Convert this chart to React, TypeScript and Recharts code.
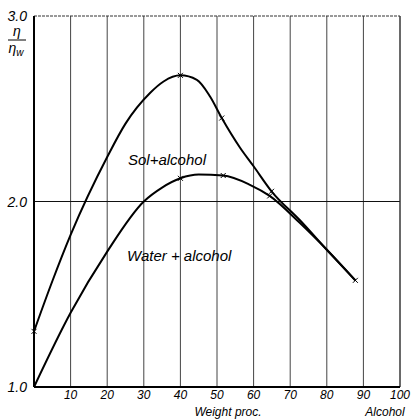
import { ComposedChart, Line, Scatter, XAxis, YAxis, CartesianGrid, ReferenceLine } from 'recharts';

// curves (weight % alcohol vs relative viscosity)
const solAlcohol = [
  { x: 0, y: 1.3 }, { x: 5, y: 1.57 }, { x: 10, y: 1.82 }, { x: 20, y: 2.24 },
  { x: 25, y: 2.42 }, { x: 31.7, y: 2.585 }, { x: 35.4, y: 2.647 }, { x: 40, y: 2.68 },
  { x: 44.5, y: 2.656 }, { x: 48.1, y: 2.566 }, { x: 51.3, y: 2.45 }, { x: 56.3, y: 2.29 },
  { x: 60, y: 2.19 }, { x: 64.9, y: 2.055 }, { x: 72.6, y: 1.9 }, { x: 80, y: 1.74 },
  { x: 87.8, y: 1.575 },
];
const waterAlcohol = [
  { x: 0, y: 1.0 }, { x: 10, y: 1.4 }, { x: 20, y: 1.73 }, { x: 30, y: 2.0 },
  { x: 35, y: 2.075 }, { x: 40, y: 2.125 }, { x: 45, y: 2.145 }, { x: 51.7, y: 2.14 },
  { x: 59, y: 2.09 }, { x: 64.4, y: 2.03 }, { x: 72.6, y: 1.885 }, { x: 80, y: 1.74 },
  { x: 87.8, y: 1.575 },
];
// measured points (x marks)
const solMarks = [
  { x: 0, y: 1.3 }, { x: 40, y: 2.68 }, { x: 51.3, y: 2.45 }, { x: 64.9, y: 2.055 }, { x: 87.8, y: 1.575 },
];
const waterMarks = [
  { x: 40, y: 2.125 }, { x: 51.7, y: 2.14 }, { x: 64.4, y: 2.03 },
];
const xTicks = [10, 20, 30, 40, 50, 60, 70, 80, 90, 100];
const yTicks = [1, 2, 3];

const FONT = '"Liberation Sans", Arial, sans-serif';

const Cross = (props: any) => {
  const { cx, cy } = props;
  const s = 2.5;
  return (
    <g stroke="#000" strokeWidth={1}>
      <line x1={cx - s} y1={cy - s} x2={cx + s} y2={cy + s} />
      <line x1={cx - s} y1={cy + s} x2={cx + s} y2={cy - s} />
    </g>
  );
};

// axis line sits at y=387; labels placed from it so they stay apart
const XTick = (props: any) => {
  const { x, payload } = props;
  return (
    <text x={x} y={399} textAnchor="middle" fontFamily={FONT} fontStyle="italic" fontSize={12} fill="#000">
      {payload.value}
    </text>
  );
};

const YTick = (props: any) => {
  const { y, payload } = props;
  return (
    <text x={27} y={y + 5} textAnchor="end" fontFamily={FONT} fontStyle="italic" fontSize={14} fill="#000">
      {payload.value.toFixed(1)}
    </text>
  );
};

const XLabel = () => (
  <g fontFamily={FONT} fontStyle="italic" fontSize={12} fill="#000">
    <text x={228} y={416} textAnchor="middle">Weight proc.</text>
    <text x={385} y={416} textAnchor="middle">Alcohol</text>
  </g>
);

const YLabel = () => (
  <g fontFamily={FONT} fontStyle="italic" fontSize={14} fill="#000">
    <text x={17} y={36} textAnchor="middle">η</text>
    <line x1={8} y1={40} x2={26} y2={40} stroke="#000" strokeWidth={1} />
    <text x={16} y={53} textAnchor="middle">
      η<tspan fontSize={10} dy={3}>w</tspan>
    </text>
  </g>
);

export default function App() {
  return (
    <div style={{ position: 'absolute', left: 0, top: 0, background: '#fff' }}>
      <ComposedChart width={413} height={419} margin={{ top: 16, right: 13, bottom: 0, left: 0 }}>
        <CartesianGrid horizontal={false} stroke="#444" strokeWidth={1} />
        <XAxis
          type="number"
          dataKey="x"
          domain={[0, 100]}
          ticks={xTicks}
          height={32}
          tickLine={false}
          axisLine={{ stroke: '#000', strokeWidth: 2 }}
          tick={<XTick />}
          label={<XLabel />}
        />
        <YAxis
          type="number"
          dataKey="y"
          domain={[1, 3]}
          ticks={yTicks}
          width={34}
          tickLine={false}
          axisLine={{ stroke: '#000', strokeWidth: 2 }}
          tick={<YTick />}
          label={<YLabel />}
        />
        <ReferenceLine y={2} stroke="#111" strokeWidth={1} />
        <ReferenceLine y={3} stroke="#333" strokeWidth={1} strokeDasharray="3 1" />
        <ReferenceLine x={100} stroke="#333" strokeWidth={1} />
        <Line data={solAlcohol} dataKey="y" type="monotone" stroke="#000" strokeWidth={2} dot={false} isAnimationActive={false} />
        <Line data={waterAlcohol} dataKey="y" type="monotone" stroke="#000" strokeWidth={2} dot={false} isAnimationActive={false} />
        <Scatter data={solMarks} dataKey="y" shape={<Cross />} isAnimationActive={false} />
        <Scatter data={waterMarks} dataKey="y" shape={<Cross />} isAnimationActive={false} />
        <text x={128} y={165} fontFamily={FONT} fontStyle="italic" fontSize={15} fill="#000">Sol+alcohol</text>
        <text x={127} y={261} fontFamily={FONT} fontStyle="italic" fontSize={15} fill="#000">Water + alcohol</text>
      </ComposedChart>
    </div>
  );
}
